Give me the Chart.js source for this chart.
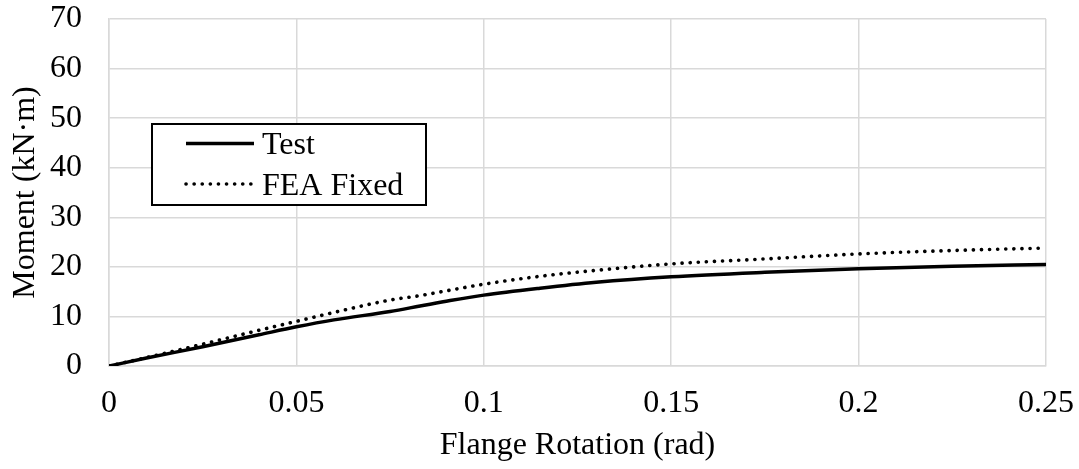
<!DOCTYPE html>
<html>
<head>
<meta charset="utf-8">
<script src="https://cdn.jsdelivr.net/npm/chart.js@4.4.1/dist/chart.umd.min.js"></script>
<style>
  html, body { margin: 0; padding: 0; background: #fff; }
  #wrap { width: 1079px; height: 469px; position: relative; }
</style>
</head>
<body>
<div id="wrap"><canvas id="chart"></canvas></div>
<script>
// values
const rotation   = [0, 0.01, 0.025, 0.04, 0.05, 0.06, 0.075, 0.083, 0.091, 0.1, 0.115, 0.13, 0.15, 0.175, 0.2, 0.225, 0.25];
const testMoment = [0, 1.6, 3.9, 6.3, 7.9, 9.3, 11.0, 12.1, 13.2, 14.3, 15.7, 16.9, 18.0, 18.9, 19.6, 20.1, 20.5];
const feaMoment  = [0, 1.7, 4.4, 7.2, 9.0, 10.8, 13.3, 14.2, 15.3, 16.5, 18.1, 19.3, 20.6, 21.6, 22.6, 23.3, 23.8];
const xTicks = [0, 0.05, 0.1, 0.15, 0.2, 0.25];
const yTicks = [0, 10, 20, 30, 40, 50, 60, 70];
const seriesNames = ['Test', 'FEA Fixed'];

const FONT = "'Liberation Serif', 'Times New Roman', serif";
Chart.defaults.font.family = FONT;
Chart.defaults.color = '#000';

const toPoints = (xs, ys) => xs.map((x, i) => ({ x: x, y: ys[i] }));

// legend box drawn inside the plot, like the original
const boxLegend = {
  id: 'boxLegend',
  afterDraw(chart) {
    const ctx = chart.ctx;
    ctx.save();
    ctx.fillStyle = '#fff';
    ctx.fillRect(152, 124, 274, 81);
    ctx.strokeStyle = '#000';
    ctx.lineWidth = 2;
    ctx.strokeRect(152, 124, 274, 81);
    ctx.font = '32px ' + FONT;
    ctx.textBaseline = 'alphabetic';
    ctx.fillStyle = '#000';
    const rows = [143.5, 184];
    chart.data.datasets.forEach((ds, i) => {
      const y = rows[i];
      ctx.beginPath();
      ctx.lineWidth = ds.borderWidth;
      ctx.lineCap = ds.borderCapStyle || 'butt';
      ctx.setLineDash(ds.borderDash || []);
      ctx.moveTo(186, y);
      ctx.lineTo(254, y);
      ctx.stroke();
      ctx.setLineDash([]);
      ctx.fillText(ds.label, 262, y + 10.5);
    });
    ctx.restore();
  }
};

new Chart(document.getElementById('chart'), {
  type: 'line',
  data: {
    datasets: [
      {
        label: seriesNames[0],
        data: toPoints(rotation, testMoment),
        borderColor: '#000',
        borderWidth: 3.5,
        pointRadius: 0,
        cubicInterpolationMode: 'monotone',
        fill: false
      },
      {
        label: seriesNames[1],
        data: toPoints(rotation, feaMoment),
        borderColor: '#000',
        borderWidth: 3.6,
        borderDash: [0.1, 8],
        borderCapStyle: 'round',
        pointRadius: 0,
        cubicInterpolationMode: 'monotone',
        fill: false
      }
    ]
  },
  options: {
    responsive: true,
    maintainAspectRatio: false,
    animation: false,
    layout: { padding: { top: 19, right: 33, left: 0, bottom: 0 } },
    plugins: { legend: { display: false }, tooltip: { enabled: false } },
    scales: {
      x: {
        type: 'linear',
        min: 0, max: 0.25,
        afterBuildTicks: s => { s.ticks = xTicks.map(v => ({ value: v })); },
        afterFit: s => { s.height = 103; s.paddingLeft = 0; s.paddingRight = 0; },
        grid: { color: '#d9d9d9', lineWidth: 1.5, drawTicks: false },
        border: { color: '#d9d9d9', width: 1.5 },
        ticks: { font: { size: 32 }, padding: 18, maxRotation: 0, callback: v => String(v) },
        title: { display: true, text: 'Flange Rotation (rad)', font: { size: 32 }, padding: { top: 0, bottom: 4 } }
      },
      y: {
        min: 0, max: 70,
        afterBuildTicks: s => { s.ticks = yTicks.map(v => ({ value: v })); },
        afterFit: s => { s.width = 109; s.paddingTop = 0; s.paddingBottom = 0; },
        grid: { color: '#d9d9d9', lineWidth: 1.5, drawTicks: false },
        border: { color: '#d9d9d9', width: 1.5 },
        ticks: { font: { size: 32 }, padding: 27 },
        title: { display: true, text: 'Moment (kN·m)', font: { size: 32 }, padding: { top: 6, bottom: 0 } }
      }
    }
  },
  plugins: [boxLegend]
});
</script>
</body>
</html>
